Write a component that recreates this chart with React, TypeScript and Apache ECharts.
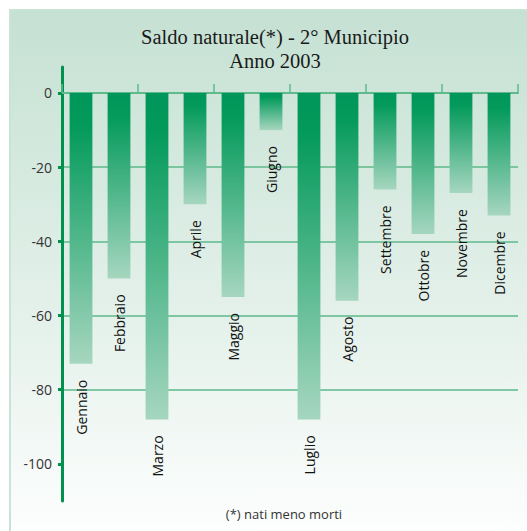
import React, { useEffect, useRef } from "react";
import * as echarts from "echarts";

const titleLines = ["Saldo naturale(*) - 2° Municipio", "Anno 2003"];
const footnote = "(*) nati meno morti";
const months = [
  "Gennaio", "Febbraio", "Marzo", "Aprile", "Maggio", "Giugno",
  "Luglio", "Agosto", "Settembre", "Ottobre", "Novembre", "Dicembre",
];
const saldo = [-73, -50, -88, -30, -55, -10, -88, -56, -26, -38, -27, -33];
const yTicks = [0, -20, -40, -60, -80, -100];
const yMin = -110;
const yMax = 7;

export default function App() {
  const ref = useRef<HTMLDivElement>(null);
  useEffect(() => {
    if (!ref.current) return;
    const chart = echarts.init(ref.current, undefined, { renderer: "svg" });
    const sans = "Open Sans";
    chart.setOption({
      animation: false,
      backgroundColor: "#ffffff",
      title: {
        text: titleLines.join("\n"),
        left: 270,
        top: 20,
        textAlign: "center",
        textStyle: {
          fontFamily: "Liberation Serif",
          fontWeight: "normal",
          fontSize: 20.5,
          lineHeight: 24,
          color: "#1a1a1a",
        },
      },
      graphic: [
        {
          type: "rect",
          z: -10,
          silent: true,
          shape: { x: 10, y: 10, width: 530, height: 540 },
          style: {
            fill: new echarts.graphic.LinearGradient(0, 0, 0, 1, [
              { offset: 0, color: "#c5e1d3" },
              { offset: 0.6, color: "#e6f2ec" },
              { offset: 1, color: "#ffffff" },
            ]),
            stroke: "#c9e4d7",
            lineWidth: 2,
          },
        },
        {
          type: "text",
          x: 284,
          y: 514,
          style: {
            text: footnote,
            fontFamily: sans,
            fontSize: 13,
            fill: "#333333",
            align: "center",
            verticalAlign: "middle",
          },
        },
      ],
      grid: { left: 62, right: 9, top: 67, bottom: 30, containLabel: false },
      xAxis: {
        type: "category",
        data: months,
        axisLine: { onZero: true, lineStyle: { color: "#5fba8c", width: 2 } },
        axisTick: { show: true, inside: true, length: 9, lineStyle: { color: "#5fba8c", width: 1.5 } },
        axisLabel: { show: false },
        splitLine: { show: false },
      },
      yAxis: {
        type: "value",
        min: yMin,
        max: yMax,
        axisLine: { show: true, lineStyle: { color: "#00914f", width: 3 } },
        axisTick: {
          show: true,
          length: 4,
          customValues: yTicks,
          lineStyle: { color: "#00914f", width: 3 },
        },
        axisLabel: {
          customValues: yTicks,
          margin: 10,
          fontFamily: sans,
          fontSize: 14,
          color: "#333333",
        },
        splitLine: {
          show: true,
          showMinLine: false,
          showMaxLine: false,
          lineStyle: { color: "#5cb88a", width: 1.5 },
        },
      },
      series: [
        {
          type: "bar",
          data: saldo,
          barWidth: "60%",
          itemStyle: {
            color: new echarts.graphic.LinearGradient(0, 0, 0, 1, [
              { offset: 0, color: "#00965a" },
              { offset: 0.12, color: "#039a5b" },
              { offset: 1, color: "#a6d6bf" },
            ]),
          },
          label: {
            show: true,
            position: "bottom",
            distance: 16,
            rotate: 90,
            align: "right",
            verticalAlign: "middle",
            formatter: (p: any) => p.name,
            fontFamily: sans,
            fontSize: 14,
            color: "#111111",
          },
        },
      ],
    });
    return () => chart.dispose();
  }, []);
  return (
    <div
      ref={ref}
      style={{ position: "fixed", left: 0, top: 0, width: 527, height: 531 }}
    />
  );
}
